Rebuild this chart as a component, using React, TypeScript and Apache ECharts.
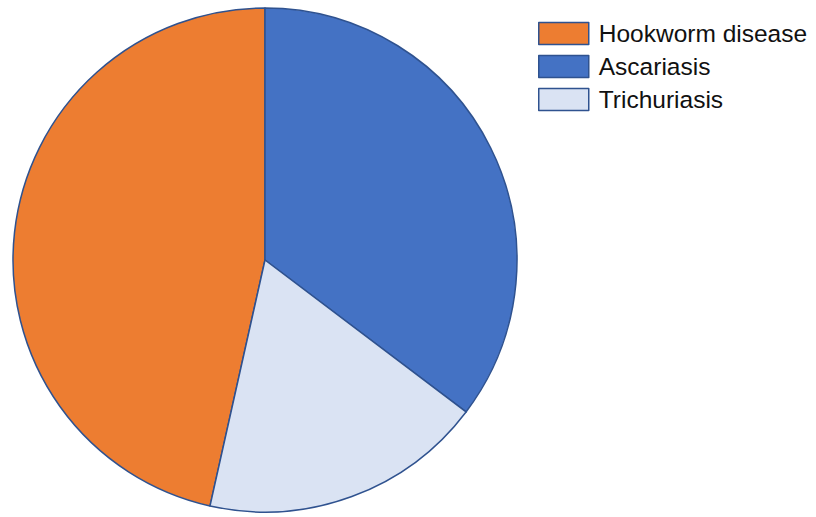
import React, { useEffect, useRef } from "react";
import * as echarts from "echarts";

const categories = ["Hookworm disease", "Ascariasis", "Trichuriasis"];
const values = [46.5, 35.3, 18.2];
const colors = ["#ED7D31", "#4472C4", "#DAE3F3"];

export default function App() {
  const ref = useRef<HTMLDivElement>(null);
  useEffect(() => {
    if (!ref.current) return;
    const chart = echarts.init(ref.current, undefined, { renderer: "svg" });
    chart.setOption({
      animation: false,
      backgroundColor: "#ffffff",
      legend: {
        orient: "vertical",
        left: 538,
        top: 21,
        padding: 0,
        itemWidth: 50,
        itemHeight: 22,
        itemGap: 8,
        icon: "rect",
        data: categories,
        selectedMode: false,
        textStyle: {
          fontFamily: "Liberation Sans, Arial, sans-serif",
          fontSize: 24.5,
          lineHeight: 22,
          color: "#111111",
          padding: [0, 0, 0, 5],
        },
        itemStyle: { borderColor: "#2F528F", borderWidth: 1.5 },
      },
      series: [
        {
          type: "pie",
          center: [265, 260],
          radius: 252,
          startAngle: 257.4,
          clockwise: true,
          label: { show: false },
          labelLine: { show: false },
          emphasis: { disabled: true },
          itemStyle: { borderColor: "#2F528F", borderWidth: 1.5 },
          data: categories.map((name, i) => ({
            name,
            value: values[i],
            itemStyle: { color: colors[i] },
          })),
        },
      ],
    });
    return () => chart.dispose();
  }, []);
  return (
    <div
      ref={ref}
      style={{ position: "fixed", left: 0, top: 0, width: 816, height: 517 }}
    />
  );
}
